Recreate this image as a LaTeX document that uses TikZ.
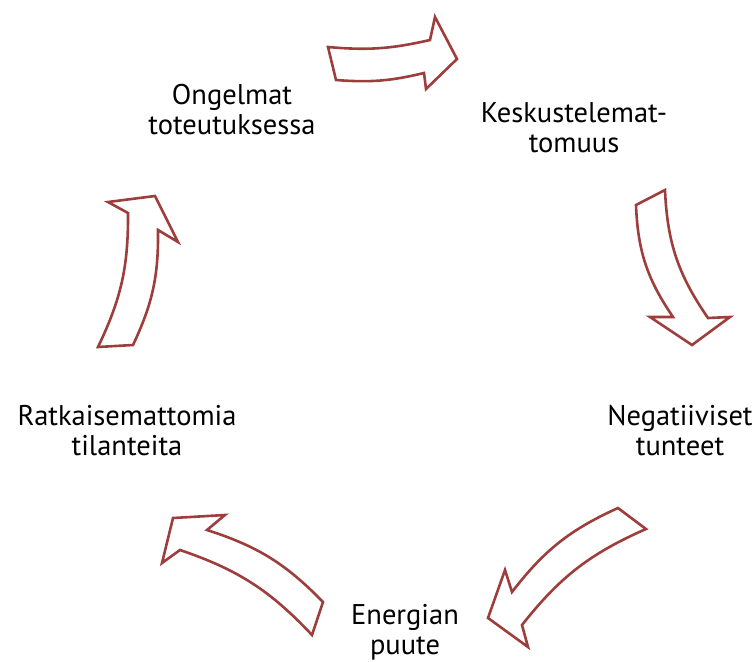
\documentclass[tikz,border=0pt]{standalone}
\usepackage{fontspec}
\setmainfont{PT Sans}
\definecolor{arrowred}{RGB}{158,62,60}
\tikzset{
  blockarrow/.style={draw=arrowred, line width=2.6pt, fill=white, line join=miter},
  steplabel/.style={align=center, font=\fontsize{28.5}{30}\selectfont, text=black, inner sep=0pt}
}
\begin{document}
\begin{tikzpicture}[x=1pt,y=-1pt]
  \useasboundingbox (0,0) rectangle (756,662);
  % labels
  \node[steplabel] (ongelmat) at (232,110) {Ongelmat\\toteutuksessa};
  \node[steplabel] (keskustelu) at (574,128) {Keskustelemat-\\tomuus};
  \node[steplabel] (tunteet) at (680,431) {Negatiiviset\\tunteet};
  \node[steplabel] (energia) at (405,632) {Energian\\puute};
  \node[steplabel] (tilanteet) at (127,431) {Ratkaisemattomia\\tilanteita};
  % arrows
  \draw[blockarrow] (328,47) to[bend right=9] (430,40) -- (435,17) -- (457,59)
    -- (426,89) -- (424,73) to[bend left=9] (336,80) -- cycle;
  \draw[blockarrow] (665,190) to[bend right=16] (708,318) -- (730,317) -- (692,345)
    -- (650,317) -- (673,317) to[bend left=16] (636,205) -- cycle;
  \draw[blockarrow] (646,529) to[bend right=14] (522,625) -- (528,647) -- (488,618)
    -- (505,570) -- (512,592) to[bend left=14] (618,508) -- cycle;
  \draw[blockarrow] (312,635) to[bend right=14] (180,550) -- (162,563) -- (173,518)
    -- (225,515) -- (207,530) to[bend left=14] (323,602) -- cycle;
  \draw[blockarrow] (98,347) to[bend right=13] (128,213) -- (108,202) -- (155,196)
    -- (178,242) -- (158,230) to[bend left=13] (133,345) -- cycle;
\end{tikzpicture}
\end{document}
